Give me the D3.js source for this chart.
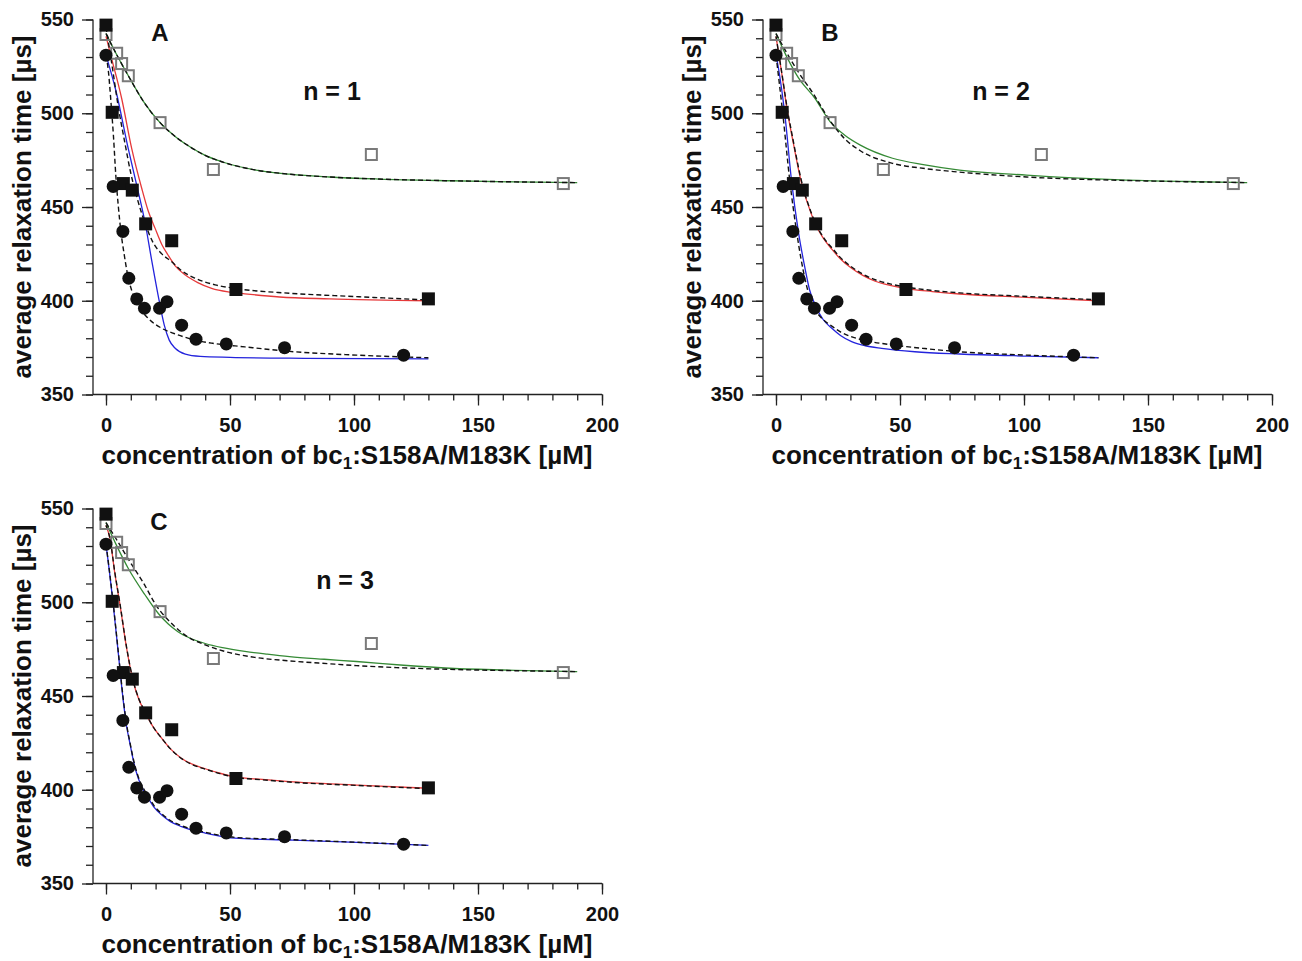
<!DOCTYPE html>
<html>
<head>
<meta charset="utf-8">
<script src="https://cdn.jsdelivr.net/npm/d3@7"></script>
<style>
  body { margin: 0; background: #fff; }
  svg text { font-family: "Liberation Sans", Arial, sans-serif; font-weight: bold; fill: #111; }
</style>
</head>
<body>
<svg id="chart" width="1302" height="961"></svg>
<script>
// ---------------- data ----------------
const xTicks = [0, 50, 100, 150, 200];
const yTicks = [350, 400, 450, 500, 550];

// measured points (identical in all three panels)
const circleConc = [0, 2.9, 6.8, 9.2, 12.4, 15.5, 21.6, 24.6, 30.5, 36.3, 48.5, 72, 120];
const circleTau  = [531, 461, 437, 412, 401, 396, 396, 399.5, 387, 379.5, 377, 375, 371];
const squareConc = [0, 2.5, 7, 10.6, 16, 26.5, 52.4, 130];
const squareTau  = [547, 500.5, 462.5, 459, 441, 432, 406, 401];
const openConc   = [0, 4.3, 6.3, 9, 21.8, 43.3, 107, 184.4];
const openTau    = [542, 532, 526.5, 520, 495, 470, 478, 462.5];

// fitted curves, panel A (n = 1)
const fitA_blue  = [[0,531],[4,512],[9,481],[12.5,461],[15.7,442],[18.5,421],[21,403],[23.5,387],[25.5,379],[28,374.5],[32,371.5],[38,370.3],[50,369.8],[80,369.3],[130,369]];
const fitA_red   = [[0,541],[2.3,529],[6.3,508],[10.4,481],[14.4,460],[17,448],[19.8,438.6],[22.5,430],[25,424.4],[28,418.5],[32,413.7],[37,409.7],[42.6,406.6],[50,404.6],[56,403.7],[70,402],[90,401],[130,400]];
const fitA_green = [[0,542.5],[4,532],[9,520],[15,506.5],[21.8,495],[28,487.5],[34,482],[40,477.5],[47,474],[60,469.8],[74,467.5],[90,466],[110,464.9],[139,464],[165,463.4],[190,463]];
const dashA_circ = [[0,531],[1,522],[2,506],[3,488],[4,466],[5,450],[6,437],[7.3,425],[8.7,414],[10.5,405],[12.4,399.5],[14.5,394.5],[17,390.6],[22.5,385.3],[29,381.8],[36,379],[43,377.3],[56,375.4],[74,373],[101,371],[130,369.6]];
const dashA_sq   = [[0,546],[2.5,525],[5,503],[7.5,485],[10,468],[12.5,455],[15.7,441.5],[19,431],[22.5,425],[26.5,420.8],[30,416.5],[36,412],[44,408.5],[52,406.6],[74,404],[101,402.2],[130,400.4]];
const dashA_open = [[0,542.5],[4,532],[9,520],[15,506.5],[21.8,495],[28,487.5],[34,482],[40,477.5],[47,474],[60,469.8],[74,467.5],[90,466],[110,464.9],[139,464],[165,463.4],[190,463]];

// fitted curves, panel B (n = 2)
const fitB_blue  = [[0,531],[1,524],[3.6,499],[6.3,463.5],[9,437],[11.7,417.3],[13.5,406],[15.7,398],[19,390],[22.5,385.3],[26,381.5],[30.5,378.2],[36,376],[42.6,374.6],[56,372.8],[74,371.6],[101,370.5],[130,369.6]];
const fitB_red   = [[0,541],[2,524],[4.6,501],[7,484],[9,470.5],[11,459],[13,451],[15.7,441.3],[19,433.5],[22.5,427.5],[26,422.3],[30.5,417.3],[35,413.5],[40,410.4],[46,408.2],[52,406.6],[63,404.9],[74,403.6],[101,401.8],[130,400]];
const fitB_green = [[0,542.5],[4,531],[9,519],[15.7,508],[21.8,495.5],[28,488],[34,483],[47,476],[60,472.5],[74,469.7],[101,467],[139,464.5],[165,463.6],[190,463]];
const dashB_circ = [[0,531],[2.8,499],[5.6,463.5],[8.3,437],[10,423],[11.8,411],[13.8,401],[15.7,395.5],[19,390],[22.5,386.5],[25.8,383.5],[30,381],[36,378.8],[47.3,376.4],[60,374.5],[74,372.8],[101,371],[130,369.6]];
const dashB_sq   = [[0,541],[2,524.5],[4.6,502],[7,485],[9,471.5],[11,460],[13,451.5],[15.7,442],[19,434],[22.5,428.3],[26,423],[30.5,418],[35,414.2],[40,411.2],[46,409],[52,407.4],[63,405.5],[74,404.2],[101,402.3],[130,400.5]];
const dashB_open = [[0,542.5],[4,533],[9,522],[15,510.5],[21.8,496],[28,486],[34,480],[47,473.3],[60,470.5],[74,468.6],[101,466],[139,464.2],[165,463.5],[190,463]];

// fitted curves, panel C (n = 3)
const fitC_blue  = [[0,531],[1.5,515],[2.9,499],[5,472.3],[7,447],[8.3,434],[9.7,424.3],[11.3,414],[13,406.1],[15,400],[17,395.6],[19.5,390.5],[22.5,386.5],[26,383],[30.5,380.3],[35,378.3],[40,376.9],[52,374.2],[74,373.2],[101,371.9],[130,370.3]];
const fitC_red   = [[0,541],[1.6,534],[3.5,516],[5.6,499],[8.3,475.6],[11,457.6],[13.3,448],[15.7,441.6],[19,433.5],[22.5,427.4],[26,421.8],[30.5,416.7],[35,413.5],[40,411.2],[46,408.8],[52,406.9],[63,405.5],[74,404.3],[101,402.5],[130,400.8]];
const fitC_green = [[0,542.5],[4,531],[9,518],[15.7,504],[21.1,494],[25,488.5],[29,484.3],[34,480.8],[40,478],[47,475.8],[56,473.8],[65,472.3],[74,471],[88,469.6],[101,468.4],[120,466.4],[138.7,464.8],[165,463.7],[190,463]];
const dashC_circ = [[0,531],[1.5,515.5],[2.9,499.5],[5,473],[7,448],[8.3,435],[9.7,425],[11.3,414.8],[13,407],[15,401],[17,396.5],[19.5,391.3],[22.5,387.2],[26,383.6],[30.5,380.8],[35,378.8],[40,377.3],[52,374.6],[74,373.4],[101,372],[130,370.3]];
const dashC_sq   = [[0,541],[1.6,534],[3.5,516.5],[5.6,499.5],[8.3,476],[11,458],[13.3,448.3],[15.7,441.8],[19,433.6],[22.5,427.4],[26,421.8],[30.5,416.6],[35,413.3],[40,411],[46,408.6],[52,406.7],[63,405.3],[74,404.1],[101,402.3],[130,400.6]];
const dashC_open = [[0,542.5],[4,534],[9,523],[15,510.5],[20.4,498],[27,488],[31.9,482.5],[40,477.3],[47.3,474],[60,470.6],[74.2,468.7],[90,467.2],[101,466.2],[120,465],[138.7,464.2],[165,463.5],[190,463]];

const panelLetters = ["A", "B", "C"];
const panelN = ["n = 1", "n = 2", "n = 3"];

// ---------------- drawing ----------------
const svg = d3.select("#chart");
const W = 509, H = 375;
const x = d3.scaleLinear().domain([-5.24, 200]).range([0, W]);
const y = d3.scaleLinear().domain([350, 550]).range([H, 0]);

const colBlue = "#2323dc", colRed = "#e6393a", colGreen = "#358a35";

const panels = [
  { ox: 93,  oy: 19.5,  letterX: 160, nX: 332, fits: [fitA_blue, fitA_red, fitA_green], dashes: [dashA_circ, dashA_sq, dashA_open] },
  { ox: 763, oy: 19.5,  letterX: 160, nX: 331, fits: [fitB_blue, fitB_red, fitB_green], dashes: [dashB_circ, dashB_sq, dashB_open] },
  { ox: 93,  oy: 508.5, letterX: 159, nX: 345, fits: [fitC_blue, fitC_red, fitC_green], dashes: [dashC_circ, dashC_sq, dashC_open] }
];

const line = d3.line().x(d => x(d[0])).y(d => y(d[1])).curve(d3.curveMonotoneX);
const minorX = d3.range(0, 201, 10);
const minorY = d3.range(350, 551, 10);

panels.forEach((p, i) => {
  const g = svg.append("g").attr("transform", `translate(${p.ox},${p.oy})`);

  // minor ticks
  g.append("g").attr("transform", `translate(0,${H})`)
    .call(d3.axisBottom(x).tickValues(minorX).tickSize(6).tickFormat("").tickSizeOuter(0))
    .call(a => a.select(".domain").remove());
  g.append("g")
    .call(d3.axisLeft(y).tickValues(minorY).tickSize(7).tickFormat("").tickSizeOuter(0))
    .call(a => a.select(".domain").remove());

  // major ticks + labels
  const xa = g.append("g").attr("transform", `translate(0,${H})`)
    .call(d3.axisBottom(x).tickValues(xTicks).tickSize(11).tickSizeOuter(0).tickPadding(12));
  xa.select(".domain").attr("d", `M0,0H${W}`);
  xa.selectAll("text").attr("font-size", 20).attr("font-weight", "bold").attr("fill", "#111").attr("font-family", "Liberation Sans, Arial, sans-serif");

  const ya = g.append("g")
    .call(d3.axisLeft(y).tickValues(yTicks).tickSize(11).tickSizeOuter(0).tickPadding(8));
  ya.select(".domain").attr("d", `M0,0V${H}`);
  ya.selectAll("text").attr("font-size", 20).attr("font-weight", "bold").attr("fill", "#111").attr("font-family", "Liberation Sans, Arial, sans-serif");

  g.selectAll(".tick line").attr("stroke", "#222").attr("stroke-width", 1.3);
  g.selectAll(".domain").attr("stroke", "#222").attr("stroke-width", 1.3);

  // axis titles
  g.append("text")
    .attr("transform", `translate(${-62},${H / 2}) rotate(-90)`)
    .attr("text-anchor", "middle").attr("font-size", 26)
    .text("average relaxation time [µs]");
  const xt = g.append("text")
    .attr("x", x(0) + 241).attr("y", H + 69)
    .attr("text-anchor", "middle").attr("font-size", 26);
  xt.append("tspan").text("concentration of bc");
  xt.append("tspan").attr("font-size", 17).attr("dy", 5).text("1");
  xt.append("tspan").attr("dy", -5).text(":S158A/M183K [µM]");

  // panel labels
  g.append("text").attr("x", p.letterX - 93).attr("y", 21).attr("text-anchor", "middle")
    .attr("font-size", 24).text(panelLetters[i]);
  g.append("text").attr("x", p.nX - 93).attr("y", 80).attr("text-anchor", "middle")
    .attr("font-size", 25).attr("xml:space", "preserve").text(panelN[i]);

  // fitted lines
  const cols = [colBlue, colRed, colGreen];
  p.fits.forEach((f, k) => {
    g.append("path").datum(f).attr("d", line).attr("fill", "none")
      .attr("stroke", cols[k]).attr("stroke-width", 1.3);
  });
  p.dashes.forEach(f => {
    g.append("path").datum(f).attr("d", line).attr("fill", "none")
      .attr("stroke", "#111").attr("stroke-width", 1.4).attr("stroke-dasharray", "5,3");
  });

  // markers
  const circ = circleConc.map((c, j) => [c, circleTau[j]]);
  const sq = squareConc.map((c, j) => [c, squareTau[j]]);
  const op = openConc.map((c, j) => [c, openTau[j]]);
  g.selectAll(".op").data(op).join("rect").attr("class", "op")
    .attr("x", d => x(d[0]) - 5.5).attr("y", d => y(d[1]) - 5.5)
    .attr("width", 11).attr("height", 11)
    .attr("fill", "none").attr("stroke", "#7a7a7a").attr("stroke-width", 2);
  g.selectAll(".sq").data(sq).join("rect").attr("class", "sq")
    .attr("x", d => x(d[0]) - 6.5).attr("y", d => y(d[1]) - 6.5)
    .attr("width", 13).attr("height", 13).attr("fill", "#111");
  g.selectAll(".ci").data(circ).join("circle").attr("class", "ci")
    .attr("cx", d => x(d[0])).attr("cy", d => y(d[1])).attr("r", 6.5).attr("fill", "#111");
});
</script>
</body>
</html>
